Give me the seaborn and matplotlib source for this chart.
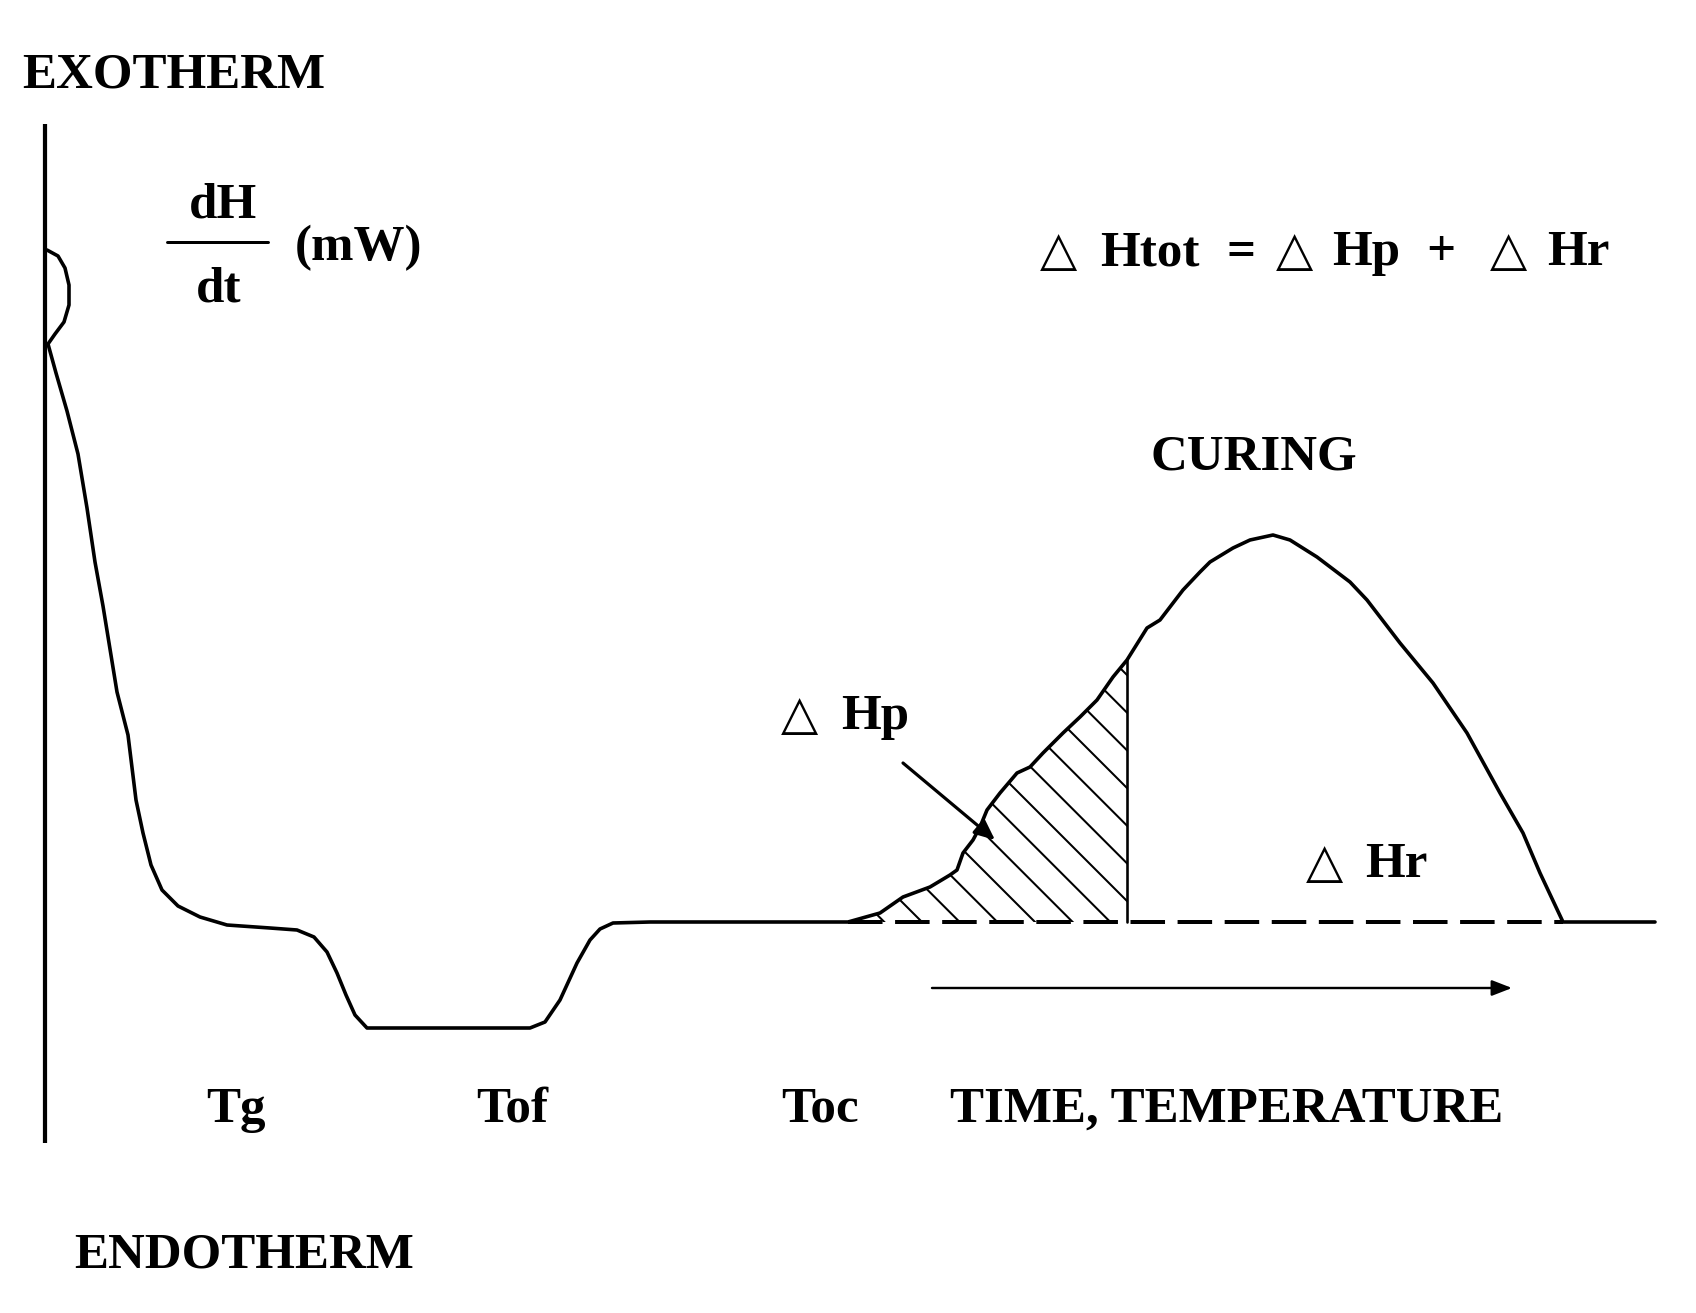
import matplotlib
matplotlib.use("Agg")
import matplotlib.pyplot as plt
import seaborn as sns
import numpy as np
import pandas as pd

# ---------------- data (pixel-like diagram units, y grows downward) ----------------
curve_x = [47, 58, 65, 69, 69, 64, 55, 48,
           56, 67, 78, 87, 95, 103, 110, 117, 128, 136, 143, 151, 162, 178, 200, 227,
           270, 297, 314, 327, 337, 346, 355, 367, 530, 545, 560, 577, 590, 600, 613,
           650, 848,
           880, 903, 930, 950, 957, 963, 973, 980, 987, 1000, 1017, 1030, 1043, 1063,
           1080, 1097, 1113, 1127, 1147, 1160, 1183, 1200, 1210, 1233, 1250, 1273,
           1290, 1317, 1350, 1367, 1400, 1433, 1467, 1500, 1523, 1540, 1563, 1655]
curve_y = [250, 256, 268, 285, 305, 322, 334, 344,
           373, 411, 454, 508, 562, 606, 649, 692, 735, 800, 833, 865, 890, 906, 917, 925,
           928, 930, 937, 952, 973, 995, 1015, 1028, 1028, 1022, 1000, 963, 940, 929, 923,
           922, 922,
           913, 897, 887, 875, 870, 853, 840, 827, 810, 793, 773, 767, 753, 733,
           717, 700, 677, 660, 628, 620, 590, 572, 562, 548, 540, 535,
           540, 557, 582, 600, 643, 683, 733, 793, 833, 873, 922, 922]

baseline_y = 922
cure_start_x = 848      # onset of curing exotherm (Toc)
cure_end_x = 1563       # end of curing peak
partial_cut_x = 1127    # end of partial cure (Hp)

temp_labels = ["Tg", "Tof", "Toc"]
temp_label_x = [236, 512, 820]

# ---------------- figure ----------------
DPI = 113
W, H = 1696, 1313
sns.set_theme(style="white")
plt.rcParams["font.family"] = ["Liberation Serif", "DejaVu Sans"]
plt.rcParams["hatch.color"] = "black"
plt.rcParams["hatch.linewidth"] = 1.3
plt.rcParams["lines.scale_dashes"] = False

fig = plt.figure(figsize=(W / DPI, H / DPI), dpi=DPI, facecolor="white")
ax = fig.add_axes([0, 0, 1, 1])
ax.set_xlim(0, W)
ax.set_ylim(H, 0)
ax.axis("off")

px = 72.0 / DPI  # points per pixel

# vertical axis
ax.plot([45, 45], [124, 1143], color="black", lw=4.2 * px, solid_capstyle="butt")

# main DSC curve
df = pd.DataFrame({"x": curve_x, "y": curve_y})
sns.lineplot(data=df, x="x", y="y", sort=False, estimator=None, color="black",
             lw=3.6 * px, ax=ax)
ax.set_xlabel("")
ax.set_ylabel("")

# hatched partial-cure area
i0 = curve_x.index(cure_start_x)
i1 = curve_x.index(partial_cut_x)
hx = np.array(curve_x[i0:i1 + 1])
hy = np.array(curve_y[i0:i1 + 1])
ax.fill_between(hx, hy, baseline_y, facecolor="none", edgecolor="black",
                hatch="\\", linewidth=0)
ax.plot([partial_cut_x, partial_cut_x], [baseline_y, curve_y[i1]], color="black",
        lw=2.6 * px)

# dashed baseline under the curing peak
ax.plot([cure_start_x, cure_end_x], [baseline_y, baseline_y], color="black",
        lw=4.0 * px, dashes=(22, 8))

# axes arrow (time, temperature)
ax.annotate("", xy=(1512, 988), xytext=(932, 988),
            arrowprops=dict(arrowstyle="-|>,head_length=0.9,head_width=0.35",
                            color="black", lw=2.4 * px, shrinkA=0, shrinkB=0))
# arrow pointing at Hp area
ax.annotate("", xy=(995, 840), xytext=(903, 763),
            arrowprops=dict(arrowstyle="-|>,head_length=0.9,head_width=0.4",
                            color="black", lw=3.2 * px, shrinkA=0, shrinkB=0))

# ---------------- text ----------------
FS = 51 * px
bold = dict(fontsize=FS, fontweight="bold", color="black",
            family=["Liberation Serif", "DejaVu Sans"], va="baseline")
tri = dict(fontsize=FS * 0.95, fontweight="normal", color="black",
           family=["DejaVu Sans"], va="baseline")

ax.text(22, 88, "EXOTHERM", ha="left", **bold)
ax.text(74, 1268, "ENDOTHERM", ha="left", **bold)

ax.text(223, 218, "dH", ha="center", **bold)
ax.plot([167, 268], [242, 242], color="black", lw=3.0 * px)
ax.text(219, 302, "dt", ha="center", **bold)
ax.text(295, 260, "(mW)", ha="left", **bold)

# Htot equation
ax.text(1040, 265, "\u25b3", ha="left", **tri)
ax.text(1100, 265, "Htot", ha="left", **bold)
ax.text(1241, 265, "=", ha="center", **bold)
ax.text(1276, 265, "\u25b3", ha="left", **tri)
ax.text(1332, 265, "Hp", ha="left", **bold)
ax.text(1441, 265, "+", ha="center", **bold)
ax.text(1490, 265, "\u25b3", ha="left", **tri)
ax.text(1547, 265, "Hr", ha="left", **bold)

ax.text(1254, 469, "CURING", ha="center", **bold)

ax.text(781, 729, "\u25b3", ha="left", **tri)
ax.text(841, 729, "Hp", ha="left", **bold)

ax.text(1306, 877, "\u25b3", ha="left", **tri)
ax.text(1365, 877, "Hr", ha="left", **bold)

for lab, lx in zip(temp_labels, temp_label_x):
    ax.text(lx, 1122, lab, ha="center", **bold)
ax.text(950, 1122, "TIME, TEMPERATURE", ha="left", **bold)

fig.savefig("out.png", dpi=DPI, facecolor="white")
